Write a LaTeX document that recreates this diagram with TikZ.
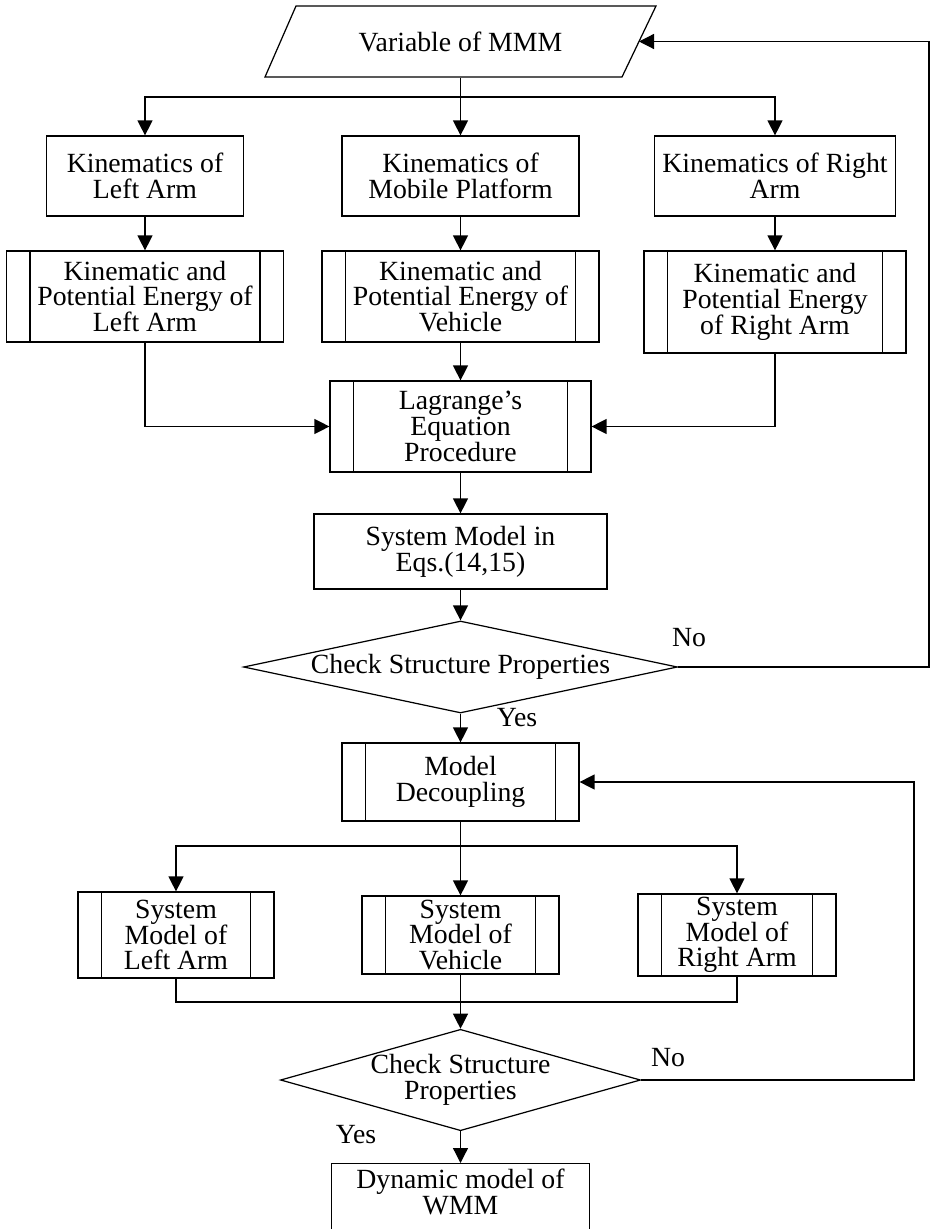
\documentclass[tikz,border=0pt]{standalone}
\usepackage{fontspec}
\setmainfont{Liberation Serif}
\usetikzlibrary{shapes.geometric,arrows.meta}

\newcommand\chartfont{\fontsize{15.8}{14.6}\selectfont\lineskiplimit-20pt\relax}

\tikzset{
  box/.style={draw, rectangle, align=center, inner sep=1pt},
  procbox/.style={box, path picture={
      \draw ([xshift=0.47cm]path picture bounding box.north west) -- ([xshift=0.47cm]path picture bounding box.south west);
      \draw ([xshift=-0.47cm]path picture bounding box.north east) -- ([xshift=-0.47cm]path picture bounding box.south east);}},
  check/.style={draw, diamond, align=center, inner sep=0pt},
  arr/.style={-{Triangle[length=0.3cm,width=0.3cm]}},
  lbl/.style={inner sep=0pt}
}

\begin{document}
\begin{tikzpicture}[x=0.02cm, y=-0.02cm, line width=0.7pt, font=\chartfont]
\useasboundingbox (0,0) rectangle (931,1229);
\clip (0,0) rectangle (931,1229);

	% input parallelogram
	\draw (265, 77) -- (296, 6) -- (656, 6) -- (622, 77) -- cycle;
	\node[minimum width=5.2cm, minimum height=1.42cm] (var) at (460.5, 41.5) {Variable of MMM};
	\coordinate (varin) at (639, 41.5);
		\node[box, minimum width=3.94cm, minimum height=1.6cm] (kl) at (145, 176) {Kinematics of\\Left Arm};
		\node[box, minimum width=4.74cm, minimum height=1.6cm] (km) at (460.5, 176) {Kinematics of\\Mobile Platform};
		\node[box, minimum width=4.82cm, minimum height=1.6cm] (kr) at (775, 176) {Kinematics of Right\\Arm};
		\node[procbox, minimum width=5.54cm, minimum height=1.82cm] (el) at (145, 296.5) {Kinematic and\\Potential Energy of\\Left Arm};
		\node[procbox, minimum width=5.54cm, minimum height=1.82cm] (em) at (460.5, 296.5) {Kinematic and\\Potential Energy of\\Vehicle};
		\node[procbox, minimum width=5.24cm, minimum height=2.04cm] (er) at (775, 302) {Kinematic and\\Potential Energy\\of Right Arm};
	\node[procbox, minimum width=5.22cm, minimum height=1.82cm] (lag) at (460.5, 426.5) {Lagrange’s\\Equation\\Procedure};
	\node[box, minimum width=5.86cm, minimum height=1.5cm] (sys) at (460.5, 551.5) {System Model in\\Eqs.(14,15)};
	\node[check, aspect=4.7, minimum width=8.68cm, minimum height=1.84cm] (chk1) at (460.5, 667) {Check Structure Properties};
	\node[procbox, minimum width=4.74cm, minimum height=1.56cm] (dec) at (460.5, 782) {Model\\Decoupling};
		\node[procbox, minimum width=3.92cm, minimum height=1.72cm] (sl) at (176, 935) {System\\Model of\\Left Arm};
		\node[procbox, minimum width=3.94cm, minimum height=1.56cm] (sv) at (460.5, 935) {System\\Model of\\Vehicle};
		\node[procbox, minimum width=3.96cm, minimum height=1.64cm] (sr) at (737, 935) {System\\Model of\\Right Arm};
	\node[check, aspect=3.55, minimum width=7.1cm, minimum height=2cm] (chk2) at (460.5, 1080) {Check Structure\\Properties};
	\node[box, anchor=north, minimum width=5.16cm, minimum height=2.2cm, label={[align=center, anchor=north, inner sep=3pt]north:Dynamic model of\\WMM}] (dyn) at (460.5, 1163) {};

	\node[lbl] (no1) at (689, 638) {No};
	\node[lbl] (yes1) at (517, 718) {Yes};
	\node[lbl] (no2) at (668, 1058) {No};
	\node[lbl] (yes2) at (356, 1135) {Yes};

	\coordinate (split1) at (460.5, 97);
	\coordinate (split2) at (460.5, 846);
	\coordinate (merge) at (460.5, 1002);
	\coordinate (back1) at (929, 667);
	\coordinate (back2) at (914, 1080);

	\draw[arr] (var) -- (km);
	\draw[arr] (split1) -| (kl);
	\draw[arr] (split1) -| (kr);
	\draw[arr] (kl) -- (el);
	\draw[arr] (km) -- (em);
	\draw[arr] (kr) -- (er);
	\draw[arr] (em) -- (lag);
	\draw[arr] (el) |- (lag);
	\draw[arr] (er) |- (lag);
	\draw[arr] (lag) -- (sys);
	\draw[arr] (sys) -- (chk1);
	\draw[arr] (chk1.east) -- (back1) |- (varin);
	\draw[arr] (chk1) -- (dec);
	\draw[arr] (dec) -- (sv);
	\draw[arr] (split2) -| (sl);
	\draw[arr] (split2) -| (sr);
	\draw (sl) |- (merge) -| (sr);
	\draw[arr] (sv) -- (chk2);
	\draw[arr] (chk2.east) -- (back2) |- (dec);
	\draw[arr] (chk2) -- (dyn);
\end{tikzpicture}
\end{document}
